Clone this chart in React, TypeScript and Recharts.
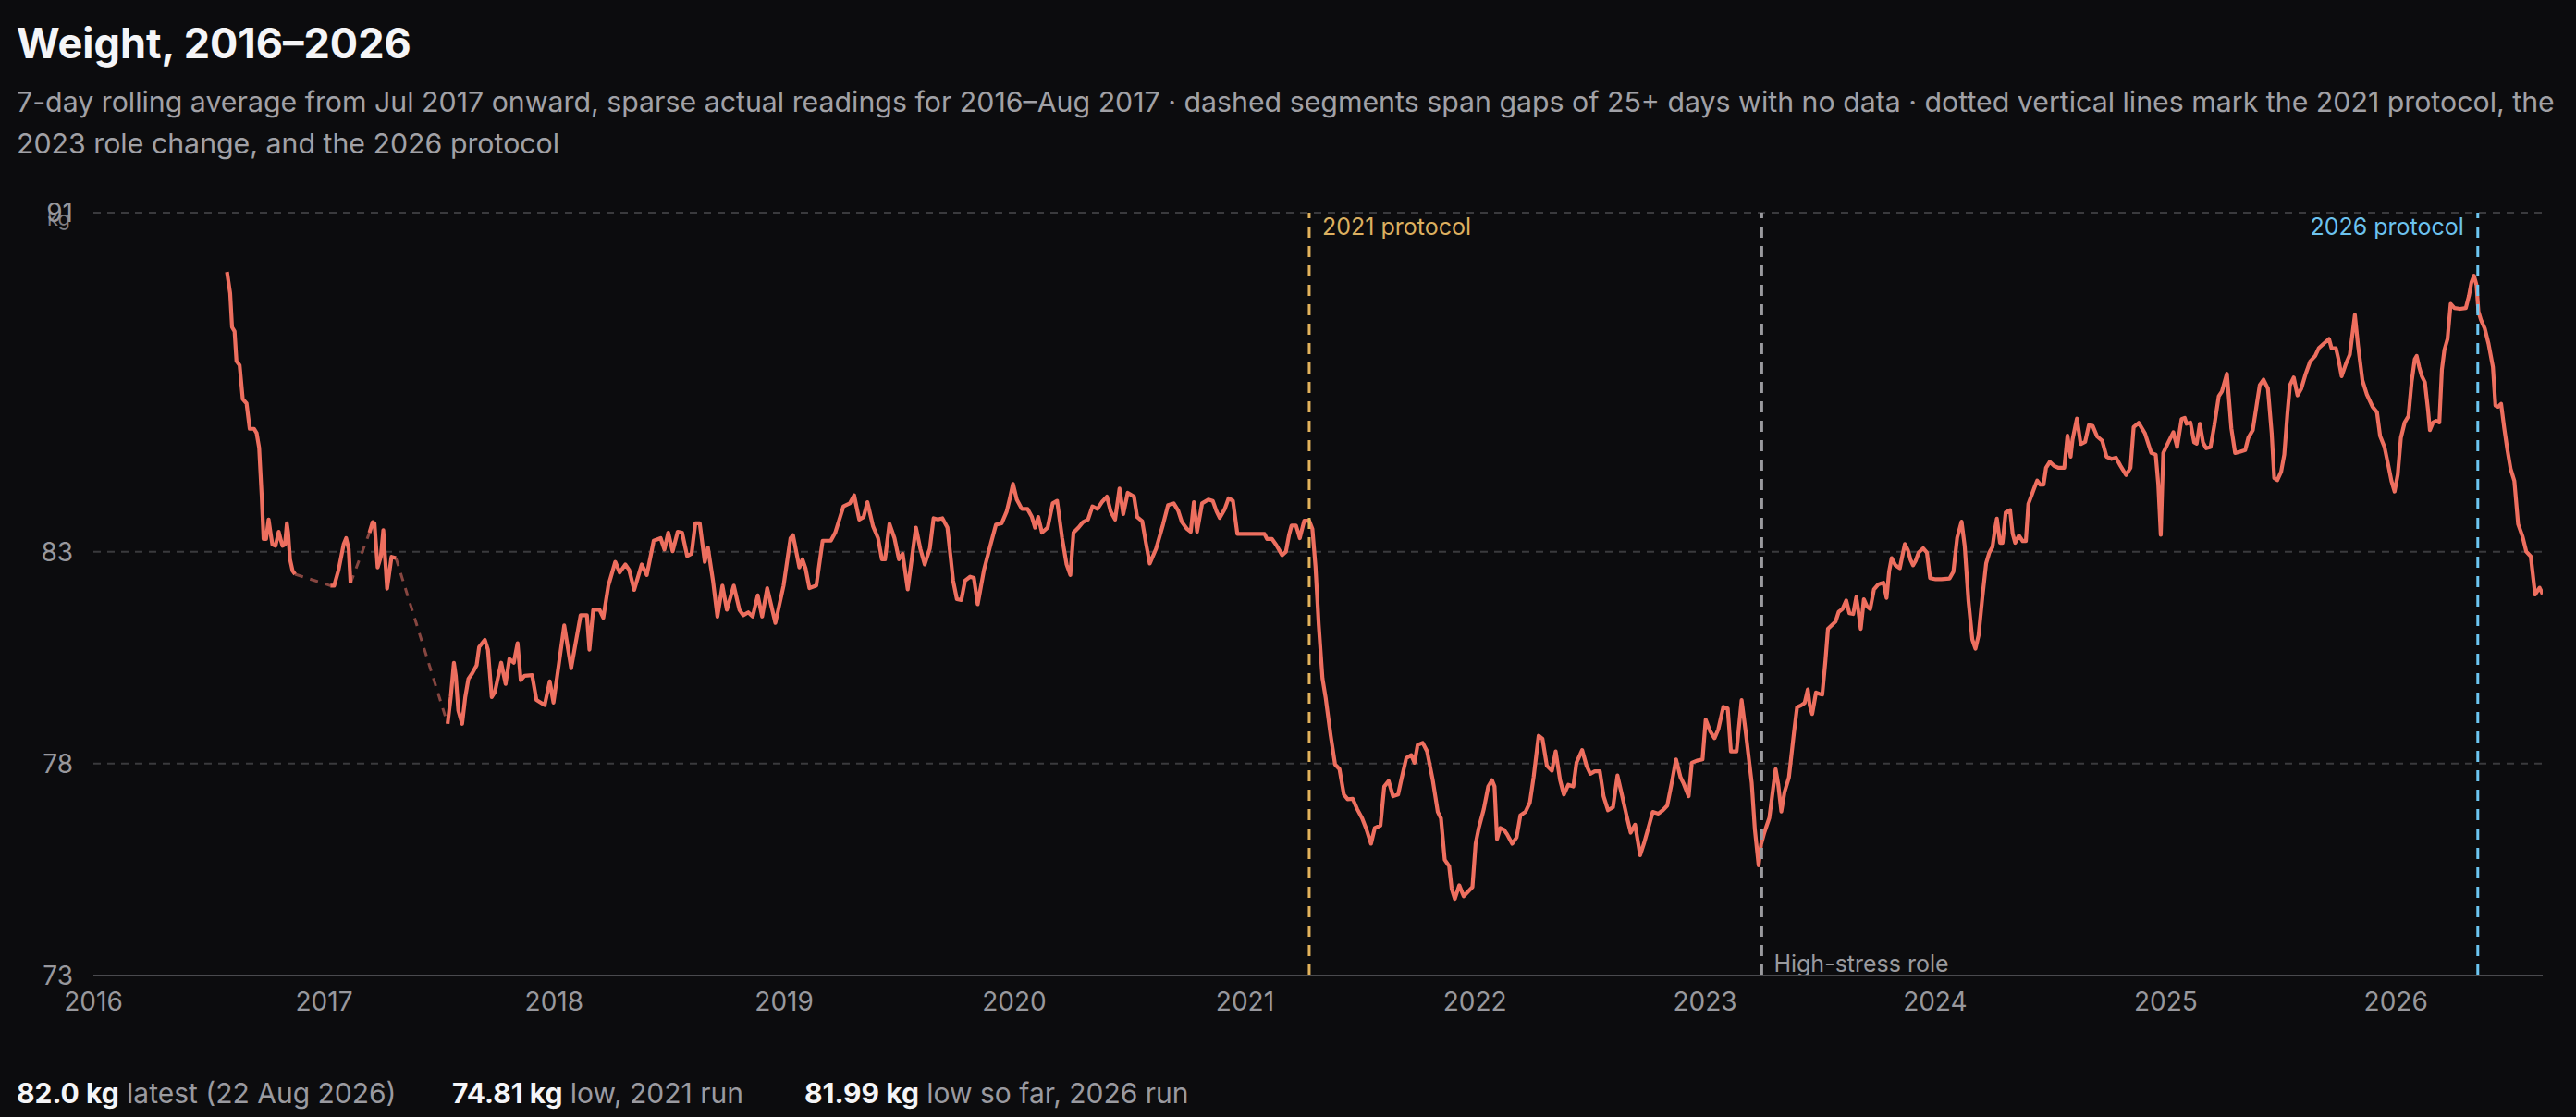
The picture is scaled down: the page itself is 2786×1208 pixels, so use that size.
import React from 'react';
import { LineChart, Line, XAxis, YAxis, CartesianGrid, ReferenceLine } from 'recharts';

// ---------- data (date, 7-day avg kg) ----------
const w2016: [string, number][] = [
  ['2016-07-31', 89.6], ['2016-08-05', 89.1], ['2016-08-08', 88.3], ['2016-08-12', 88.2], ['2016-08-15', 87.5],
  ['2016-08-20', 87.4], ['2016-08-25', 86.6], ['2016-08-31', 86.5], ['2016-09-05', 85.9], ['2016-09-12', 85.9],
  ['2016-09-16', 85.8], ['2016-09-20', 85.45], ['2016-09-24', 84.33], ['2016-09-27', 83.3], ['2016-10-01', 83.3],
  ['2016-10-05', 83.76], ['2016-10-08', 83.45], ['2016-10-11', 83.17], ['2016-10-16', 83.14], ['2016-10-21', 83.47],
  ['2016-10-24', 83.3], ['2016-10-27', 83.14], ['2016-10-31', 83.17], ['2016-11-03', 83.67], ['2016-11-05', 83.45],
  ['2016-11-08', 82.82], ['2016-11-12', 82.55], ['2016-11-16', 82.47],
];
const w2017: [string, number][] = [
  ['2017-01-11', 82.2], ['2017-01-17', 82.2], ['2017-01-24', 82.57], ['2017-02-01', 83.17], ['2017-02-05', 83.32],
  ['2017-02-09', 83.07], ['2017-02-12', 82.26],
  ['2017-03-14', 83.45], ['2017-03-19', 83.7], ['2017-03-22', 83.67], ['2017-03-27', 82.63], ['2017-04-01', 82.88],
  ['2017-04-05', 83.51], ['2017-04-11', 82.13], ['2017-04-14', 82.45], ['2017-04-18', 82.88], ['2017-04-25', 82.85],
  ['2017-07-16', 78.94], ['2017-07-21', 79.57], ['2017-07-26', 80.38], ['2017-07-29', 80.07], ['2017-08-02', 79.25],
  ['2017-08-08', 78.94], ['2017-08-13', 79.57], ['2017-08-18', 80.0], ['2017-08-24', 80.13], ['2017-08-31', 80.32],
  ['2017-09-04', 80.75], ['2017-09-13', 80.92], ['2017-09-18', 80.69], ['2017-09-24', 79.57], ['2017-09-29', 79.69],
  ['2017-10-09', 80.38], ['2017-10-16', 79.88], ['2017-10-22', 80.47], ['2017-10-29', 80.38], ['2017-11-04', 80.84],
  ['2017-11-09', 79.97], ['2017-11-15', 80.07], ['2017-11-27', 80.09], ['2017-12-04', 79.5], ['2017-12-17', 79.38],
  ['2017-12-25', 79.94], ['2017-12-31', 79.44],
];
const w2018: [string, number][] = [
  ['2018-01-17', 81.26], ['2018-01-28', 80.25], ['2018-02-12', 81.5], ['2018-02-22', 81.5], ['2018-02-26', 80.69],
  ['2018-03-04', 81.63], ['2018-03-14', 81.63], ['2018-03-20', 81.44], ['2018-03-28', 82.2], ['2018-04-08', 82.76],
  ['2018-04-15', 82.51], ['2018-04-24', 82.7], ['2018-04-30', 82.57], ['2018-05-08', 82.1], ['2018-05-20', 82.7],
  ['2018-05-28', 82.45], ['2018-06-08', 83.26], ['2018-06-19', 83.32], ['2018-06-25', 83.05], ['2018-07-01', 83.45],
  ['2018-07-08', 83.01], ['2018-07-16', 83.47], ['2018-07-23', 83.45], ['2018-07-31', 82.9], ['2018-08-07', 82.95],
  ['2018-08-13', 83.67], ['2018-08-20', 83.67], ['2018-08-28', 82.76], ['2018-09-02', 83.1], ['2018-09-10', 82.32],
  ['2018-09-17', 81.47], ['2018-09-25', 82.2], ['2018-10-02', 81.63], ['2018-10-13', 82.2], ['2018-10-22', 81.63],
  ['2018-10-28', 81.5], ['2018-11-05', 81.57], ['2018-11-12', 81.47], ['2018-11-20', 81.97], ['2018-11-27', 81.47],
  ['2018-12-05', 82.14], ['2018-12-18', 81.32], ['2018-12-31', 82.2],
];
const w2019: [string, number][] = [
  ['2019-01-11', 83.32], ['2019-01-15', 83.39], ['2019-01-25', 82.63], ['2019-01-30', 82.82], ['2019-02-04', 82.6],
  ['2019-02-10', 82.14], ['2019-02-21', 82.2], ['2019-03-03', 83.26], ['2019-03-16', 83.26], ['2019-03-23', 83.45],
  ['2019-04-05', 84.07], ['2019-04-15', 84.14], ['2019-04-22', 84.33], ['2019-04-30', 83.76], ['2019-05-07', 83.82],
  ['2019-05-13', 84.17], ['2019-05-22', 83.6], ['2019-05-30', 83.32], ['2019-06-05', 82.82], ['2019-06-10', 82.82],
  ['2019-06-17', 83.66], ['2019-06-25', 83.32], ['2019-07-02', 82.82], ['2019-07-08', 82.95], ['2019-07-16', 82.11],
  ['2019-07-29', 83.57], ['2019-08-05', 83.07], ['2019-08-12', 82.7], ['2019-08-20', 83.07], ['2019-08-26', 83.79],
  ['2019-09-02', 83.76], ['2019-09-09', 83.79], ['2019-09-17', 83.57], ['2019-09-26', 82.32], ['2019-10-02', 81.88],
  ['2019-10-09', 81.86], ['2019-10-15', 82.32], ['2019-10-23', 82.41], ['2019-10-29', 82.38], ['2019-11-04', 81.76],
  ['2019-11-14', 82.57], ['2019-11-25', 83.2], ['2019-12-03', 83.64], ['2019-12-12', 83.67], ['2019-12-20', 83.95],
  ['2019-12-25', 84.26], ['2019-12-30', 84.6],
];
const w2020: [string, number][] = [
  ['2020-01-05', 84.23], ['2020-01-13', 84.01], ['2020-01-22', 84.01], ['2020-01-29', 83.82], ['2020-02-03', 83.57],
  ['2020-02-08', 83.82], ['2020-02-14', 83.45], ['2020-02-23', 83.57], ['2020-03-02', 84.14], ['2020-03-09', 84.2],
  ['2020-03-17', 83.32], ['2020-03-24', 82.7], ['2020-03-30', 82.45], ['2020-04-04', 83.45], ['2020-04-12', 83.57],
  ['2020-04-19', 83.7], ['2020-04-27', 83.76], ['2020-05-04', 84.07], ['2020-05-12', 84.01], ['2020-05-19', 84.17],
  ['2020-05-27', 84.3], ['2020-06-02', 83.95], ['2020-06-09', 83.76], ['2020-06-16', 84.49], ['2020-06-22', 83.89],
  ['2020-06-29', 84.39], ['2020-07-09', 84.3], ['2020-07-14', 83.82], ['2020-07-22', 83.72], ['2020-07-28', 83.2],
  ['2020-08-03', 82.72], ['2020-08-13', 83.07], ['2020-08-24', 83.64], ['2020-09-01', 84.1], ['2020-09-10', 84.14],
  ['2020-09-17', 83.97], ['2020-09-23', 83.7], ['2020-10-01', 83.54], ['2020-10-07', 83.47], ['2020-10-12', 84.17],
  ['2020-10-17', 83.47], ['2020-10-25', 84.14], ['2020-11-04', 84.23], ['2020-11-11', 84.2], ['2020-11-17', 83.95],
  ['2020-11-22', 83.8], ['2020-11-30', 84.01], ['2020-12-06', 84.26], ['2020-12-13', 84.2], ['2020-12-20', 83.42],
];
const w2021: [string, number][] = [
  ['2021-01-10', 83.42], ['2021-02-01', 83.42], ['2021-02-05', 83.3], ['2021-02-13', 83.3], ['2021-02-20', 83.15],
  ['2021-03-01', 82.92], ['2021-03-07', 83.0], ['2021-03-12', 83.4], ['2021-03-16', 83.62], ['2021-03-23', 83.62],
  ['2021-03-29', 83.32], ['2021-04-05', 83.73], ['2021-04-13', 83.73], ['2021-04-18', 83.54], ['2021-04-23', 82.64],
  ['2021-04-28', 81.29], ['2021-05-04', 80.01], ['2021-05-09', 79.56], ['2021-05-17', 78.66], ['2021-05-24', 77.98],
  ['2021-05-31', 77.87], ['2021-06-07', 77.27], ['2021-06-13', 77.16], ['2021-06-21', 77.17], ['2021-06-28', 76.93],
  ['2021-07-06', 76.71], ['2021-07-13', 76.44], ['2021-07-20', 76.11], ['2021-07-26', 76.48], ['2021-08-04', 76.54],
  ['2021-08-10', 77.46], ['2021-08-17', 77.59], ['2021-08-24', 77.23], ['2021-09-01', 77.27], ['2021-09-07', 77.68],
  ['2021-09-14', 78.13], ['2021-09-22', 78.2], ['2021-09-27', 78.02], ['2021-10-02', 78.44], ['2021-10-10', 78.49],
  ['2021-10-17', 78.29], ['2021-10-26', 77.61], ['2021-11-03', 76.86], ['2021-11-08', 76.71], ['2021-11-14', 75.73],
  ['2021-11-21', 75.58], ['2021-11-25', 75.05], ['2021-11-30', 74.81], ['2021-12-07', 75.13], ['2021-12-14', 74.87],
  ['2021-12-21', 74.98], ['2021-12-28', 75.09],
];
const w2022: [string, number][] = [
  ['2022-01-02', 76.11], ['2022-01-07', 76.48], ['2022-01-15', 76.93], ['2022-01-22', 77.46], ['2022-01-28', 77.61],
  ['2022-02-01', 77.46], ['2022-02-05', 76.22], ['2022-02-10', 76.48], ['2022-02-16', 76.44], ['2022-02-21', 76.33],
  ['2022-03-01', 76.11], ['2022-03-08', 76.26], ['2022-03-14', 76.78], ['2022-03-22', 76.86], ['2022-03-29', 77.08],
  ['2022-04-04', 77.68], ['2022-04-12', 78.66], ['2022-04-18', 78.59], ['2022-04-25', 77.95], ['2022-05-03', 77.83],
  ['2022-05-09', 78.29], ['2022-05-16', 77.61], ['2022-05-22', 77.27], ['2022-05-29', 77.5], ['2022-06-06', 77.46],
  ['2022-06-11', 78.02], ['2022-06-20', 78.32], ['2022-06-27', 77.95], ['2022-07-03', 77.76], ['2022-07-10', 77.82],
  ['2022-07-18', 77.82], ['2022-07-24', 77.23], ['2022-07-31', 76.9], ['2022-08-08', 76.97], ['2022-08-15', 77.72],
  ['2022-08-22', 77.27], ['2022-08-30', 76.74], ['2022-09-05', 76.37], ['2022-09-12', 76.56], ['2022-09-20', 75.84],
  ['2022-09-26', 76.11], ['2022-10-03', 76.48], ['2022-10-10', 76.86], ['2022-10-19', 76.82], ['2022-10-26', 76.9],
  ['2022-11-02', 77.01], ['2022-11-10', 77.61], ['2022-11-16', 78.1], ['2022-11-23', 77.68], ['2022-11-28', 77.53],
  ['2022-12-06', 77.23], ['2022-12-11', 78.02], ['2022-12-19', 78.07], ['2022-12-28', 78.1],
];
const w2023: [string, number][] = [
  ['2023-01-02', 79.04], ['2023-01-09', 78.77], ['2023-01-16', 78.6], ['2023-01-22', 78.81], ['2023-01-30', 79.34],
  ['2023-02-06', 79.3], ['2023-02-11', 78.29], ['2023-02-20', 78.29], ['2023-02-28', 79.5], ['2023-03-06', 78.81],
  ['2023-03-16', 77.55], ['2023-03-21', 76.45], ['2023-03-27', 75.6], ['2023-03-31', 76.1], ['2023-04-05', 76.37],
  ['2023-04-13', 76.72], ['2023-04-19', 77.42], ['2023-04-23', 77.87], ['2023-04-27', 77.52], ['2023-05-02', 76.87],
  ['2023-05-07', 77.32], ['2023-05-14', 77.67], ['2023-05-22', 78.72], ['2023-05-27', 79.33], ['2023-06-03', 79.38],
  ['2023-06-08', 79.43], ['2023-06-13', 79.75], ['2023-06-16', 79.38], ['2023-06-20', 79.17], ['2023-06-26', 79.68],
  ['2023-07-01', 79.65], ['2023-07-06', 79.63], ['2023-07-11', 80.43], ['2023-07-15', 81.18], ['2023-07-22', 81.28],
  ['2023-07-27', 81.35], ['2023-08-01', 81.58], ['2023-08-07', 81.65], ['2023-08-13', 81.85], ['2023-08-18', 81.55],
  ['2023-08-24', 81.53], ['2023-08-29', 81.93], ['2023-09-01', 81.63], ['2023-09-05', 81.18], ['2023-09-10', 81.88],
  ['2023-09-15', 81.71], ['2023-09-20', 81.65], ['2023-09-26', 82.11], ['2023-10-03', 82.23], ['2023-10-11', 82.27],
  ['2023-10-16', 81.91], ['2023-10-20', 82.53], ['2023-10-24', 82.85], ['2023-10-30', 82.68], ['2023-11-06', 82.61],
  ['2023-11-09', 82.83], ['2023-11-14', 83.18], ['2023-11-19', 83.03], ['2023-11-23', 82.81], ['2023-11-27', 82.68],
  ['2023-12-01', 82.78], ['2023-12-06', 82.98], ['2023-12-13', 83.08], ['2023-12-19', 82.98], ['2023-12-24', 82.38],
];
const w2024: [string, number][] = [
  ['2024-01-02', 82.35], ['2024-01-11', 82.35], ['2024-01-24', 82.37], ['2024-01-30', 82.53], ['2024-02-05', 83.33],
  ['2024-02-12', 83.71], ['2024-02-17', 83.13], ['2024-02-23', 81.83], ['2024-02-29', 80.93], ['2024-03-05', 80.71],
  ['2024-03-10', 81.03], ['2024-03-16', 81.93], ['2024-03-22', 82.73], ['2024-03-27', 82.98], ['2024-04-01', 83.11],
  ['2024-04-05', 83.53], ['2024-04-08', 83.78], ['2024-04-13', 83.21], ['2024-04-17', 83.21], ['2024-04-22', 83.93],
  ['2024-04-29', 83.98], ['2024-05-03', 83.43], ['2024-05-07', 83.21], ['2024-05-13', 83.38], ['2024-05-19', 83.25],
  ['2024-05-24', 83.25], ['2024-05-28', 84.13], ['2024-06-02', 84.33], ['2024-06-07', 84.53], ['2024-06-11', 84.68],
  ['2024-06-16', 84.58], ['2024-06-21', 84.58], ['2024-06-25', 84.98], ['2024-07-01', 85.12], ['2024-07-08', 85.02],
  ['2024-07-15', 84.98], ['2024-07-24', 84.98], ['2024-07-29', 85.74], ['2024-08-03', 85.24], ['2024-08-06', 85.64],
  ['2024-08-13', 86.14], ['2024-08-19', 85.54], ['2024-08-26', 85.59], ['2024-09-01', 85.99], ['2024-09-07', 85.97],
  ['2024-09-14', 85.72], ['2024-09-22', 85.62], ['2024-09-29', 85.24], ['2024-10-07', 85.19], ['2024-10-14', 85.22],
  ['2024-10-21', 85.03], ['2024-10-30', 84.81], ['2024-11-06', 84.98], ['2024-11-11', 85.94], ['2024-11-19', 86.04],
  ['2024-11-29', 85.79], ['2024-12-09', 85.33], ['2024-12-16', 85.29], ['2024-12-20', 84.6], ['2024-12-24', 83.4],
  ['2024-12-28', 85.33],
];
const w2025: [string, number][] = [
  ['2025-01-05', 85.58], ['2025-01-13', 85.82], ['2025-01-19', 85.47], ['2025-01-26', 86.13], ['2025-01-31', 86.16],
  ['2025-02-03', 86.02], ['2025-02-09', 86.05], ['2025-02-15', 85.58], ['2025-02-19', 85.55], ['2025-02-24', 86.02],
  ['2025-03-01', 85.58], ['2025-03-06', 85.44], ['2025-03-13', 85.47], ['2025-03-19', 85.98], ['2025-03-26', 86.67],
  ['2025-03-31', 86.78], ['2025-04-08', 87.2], ['2025-04-15', 85.91], ['2025-04-21', 85.33], ['2025-04-29', 85.36],
  ['2025-05-07', 85.4], ['2025-05-12', 85.69], ['2025-05-19', 85.87], ['2025-05-24', 86.35], ['2025-05-30', 86.93],
  ['2025-06-05', 87.06], ['2025-06-12', 86.85], ['2025-06-18', 85.8], ['2025-06-22', 84.74], ['2025-06-27', 84.69],
  ['2025-07-03', 84.89], ['2025-07-08', 85.29], ['2025-07-13', 86.27], ['2025-07-17', 86.93], ['2025-07-23', 87.11],
  ['2025-07-29', 86.69], ['2025-08-04', 86.85], ['2025-08-11', 87.2], ['2025-08-18', 87.49], ['2025-08-26', 87.62],
  ['2025-09-01', 87.81], ['2025-09-10', 87.93], ['2025-09-17', 88.02], ['2025-09-21', 87.8], ['2025-09-28', 87.8],
  ['2025-10-02', 87.54], ['2025-10-07', 87.14], ['2025-10-14', 87.44], ['2025-10-20', 87.65], ['2025-10-28', 88.59],
  ['2025-11-02', 87.87], ['2025-11-09', 87.04], ['2025-11-16', 86.71], ['2025-11-25', 86.42], ['2025-12-02', 86.29],
  ['2025-12-07', 85.73], ['2025-12-14', 85.47], ['2025-12-20', 85.04], ['2025-12-25', 84.67], ['2025-12-30', 84.42],
];
const w2026: [string, number][] = [
  ['2026-01-04', 84.82], ['2026-01-09', 85.69], ['2026-01-15', 86.05], ['2026-01-21', 86.2], ['2026-01-26', 87.0],
  ['2026-01-31', 87.54], ['2026-02-03', 87.62], ['2026-02-07', 87.36], ['2026-02-11', 87.15], ['2026-02-16', 87.0],
  ['2026-02-21', 86.35], ['2026-02-24', 85.87], ['2026-03-01', 86.05], ['2026-03-06', 86.09], ['2026-03-11', 86.05],
  ['2026-03-15', 87.29], ['2026-03-19', 87.76], ['2026-03-24', 88.02], ['2026-03-29', 88.85], ['2026-04-04', 88.75],
  ['2026-04-13', 88.73], ['2026-04-22', 88.75], ['2026-04-27', 89.04], ['2026-05-01', 89.36], ['2026-05-05', 89.51],
  ['2026-05-09', 89.29], ['2026-05-12', 88.67], ['2026-05-16', 88.47], ['2026-05-22', 88.27], ['2026-05-28', 87.91],
  ['2026-06-04', 87.36], ['2026-06-08', 86.45], ['2026-06-12', 86.42], ['2026-06-17', 86.49], ['2026-06-22', 85.91],
  ['2026-06-27', 85.4], ['2026-07-02', 84.96], ['2026-07-08', 84.67], ['2026-07-14', 83.65], ['2026-07-21', 83.36],
  ['2026-07-27', 83.0], ['2026-08-03', 82.89], ['2026-08-10', 81.99], ['2026-08-17', 82.15], ['2026-08-22', 82.0],
];

const yearLabels = ['2016', '2017', '2018', '2019', '2020', '2021', '2022', '2023', '2024', '2025', '2026'];
const yTicks = [73, 78, 83, 91];
const xDomainDates = ['2016-01-01', '2026-08-22'];
const markerDates = ['2021-04-13', '2023-04-01', '2026-05-11'];
const markerLabels = ['2021 protocol', 'High-stress role', '2026 protocol'];
const statValues = ['82.0 kg', '74.81 kg', '81.99 kg'];
const statNotes = ['latest (22 Aug 2026)', 'low, 2021 run', 'low so far, 2026 run'];
const GAP_DAYS = 25;

// ---------- derived ----------
const DAY = 86400000;
const toDay = (s: string) => Date.parse(s + 'T00:00:00Z') / DAY;
const readings = [...w2016, ...w2017, ...w2018, ...w2019, ...w2020, ...w2021, ...w2022, ...w2023, ...w2024, ...w2025, ...w2026]
  .map(([d, kg]) => ({ t: toDay(d), kg }));
const solidRows: { t: number; kg: number | null }[] = [];
const gapSegments: { t: number; kg: number }[][] = [];
readings.forEach((r, i) => {
  const prev = readings[i - 1];
  if (prev && r.t - prev.t >= GAP_DAYS) {
    solidRows.push({ t: prev.t + 1, kg: null });
    gapSegments.push([prev, r]);
  }
  solidRows.push(r);
});
const yearTs = yearLabels.map((y) => toDay(`${y}-01-01`));
const xDomain = xDomainDates.map(toDay);

// ---------- styles ----------
const FONT = 'Inter, "Noto Sans", sans-serif';
const BG = '#0c0c0e';
const LINE = '#ee6f5f';
const GAP_LINE = '#874640';
const markerStyles = [
  { color: '#e3b35c', textColor: '#dcb060', side: 'top-right' },
  { color: '#9a9a9e', textColor: '#9a9a9e', side: 'bottom-right' },
  { color: '#6cc6f2', textColor: '#6cc3ef', side: 'top-left' },
];
const statLefts = [18, 489, 870];

const MarkerLabel = (props: any) => {
  const { viewBox, text, color, side } = props;
  if (!viewBox) return null;
  const x0 = viewBox.x;
  const top = viewBox.y;
  const bottom = viewBox.y + viewBox.height;
  let x = x0 + 14;
  let y = top + 24;
  let anchor: 'start' | 'end' = 'start';
  if (side === 'bottom-right') { x = x0 + 13; y = bottom - 4; }
  if (side === 'top-left') { x = x0 - 15; anchor = 'end'; }
  return (
    <text x={x} y={y} fill={color} fontSize={25} fontFamily={FONT} textAnchor={anchor}>{text}</text>
  );
};

const UnitLabel = (props: any) => {
  const { viewBox } = props;
  if (!viewBox) return null;
  return (
    <text x={viewBox.x + viewBox.width - 25} y={viewBox.y + 14} fill="#7e7e83" fontSize={22} fontFamily={FONT} textAnchor="end">kg</text>
  );
};

export default function App() {
  return (
    <div style={{ position: 'relative', width: 2786, height: 1208, background: BG, overflow: 'hidden', fontFamily: FONT }}>
      <style>{`html,body{margin:0;padding:0;background:${BG};}`}</style>
      <div style={{ position: 'absolute', left: 18, top: 24, fontSize: 45, lineHeight: '45px', fontWeight: 700, color: '#f5f5f7', whiteSpace: 'nowrap' }}>
        Weight, 2016–2026
      </div>
      <div style={{ position: 'absolute', left: 18, top: 87.5, fontSize: 30.3, lineHeight: '45px', color: '#a1a1a6', whiteSpace: 'nowrap' }}>
        <div>7-day rolling average from Jul 2017 onward, sparse actual readings for 2016–Aug 2017 · dashed segments span gaps of 25+ days with no data · dotted vertical lines mark the 2021 protocol, the</div>
        <div>2023 role change, and the 2026 protocol</div>
      </div>

      <div style={{ position: 'absolute', left: 0, top: 200 }}>
        <LineChart width={2786} height={920} data={solidRows} margin={{ top: 30, right: 36, bottom: 15, left: 0 }}>
          <CartesianGrid vertical={false} stroke="#3a3a3d" strokeDasharray="8 7" strokeWidth={2} />
          <XAxis
            dataKey="t"
            type="number"
            domain={xDomain}
            allowDataOverflow
            ticks={yearTs}
            interval={0}
            tickFormatter={(v: number) => yearLabels[yearTs.indexOf(v)] ?? ''}
            axisLine={{ stroke: '#4a4a4e', strokeWidth: 2 }}
            tickLine={false}
            tickSize={0}
            tickMargin={18}
            height={50}
            tick={{ fill: '#98989d', fontSize: 28, fontFamily: FONT }}
          />
          <YAxis
            type="number"
            domain={[73, 91]}
            allowDataOverflow
            ticks={yTicks}
            interval={0}
            axisLine={false}
            tickLine={false}
            tickSize={0}
            tickMargin={22}
            width={101}
            tick={{ fill: '#98989d', fontSize: 28, fontFamily: FONT }}
            label={<UnitLabel />}
          />
          {gapSegments.map((seg, i) => (
            <Line
              key={`gap-${i}`}
              data={seg}
              dataKey="kg"
              type="linear"
              stroke={GAP_LINE}
              strokeWidth={3}
              strokeDasharray="9 8"
              dot={false}
              activeDot={false}
              isAnimationActive={false}
            />
          ))}
          <Line
            dataKey="kg"
            type="linear"
            stroke={LINE}
            strokeWidth={4.2}
            strokeLinejoin="round"
            dot={false}
            activeDot={false}
            connectNulls={false}
            isAnimationActive={false}
          />
          {markerDates.map((d, i) => (
            <ReferenceLine
              key={d}
              x={toDay(d)}
              stroke={markerStyles[i].color}
              strokeWidth={3}
              strokeDasharray="12 9"
              label={<MarkerLabel text={markerLabels[i]} color={markerStyles[i].textColor} side={markerStyles[i].side} />}
            />
          ))}
        </LineChart>
      </div>

      {statValues.map((v, i) => (
        <div key={v} style={{ position: 'absolute', left: statLefts[i], top: 1167, fontSize: 30, lineHeight: '30px', whiteSpace: 'nowrap' }}>
          <span style={{ color: '#f5f5f7', fontWeight: 700 }}>{v}</span>
          <span style={{ color: '#9a9aa0' }}> {statNotes[i]}</span>
        </div>
      ))}
    </div>
  );
}
